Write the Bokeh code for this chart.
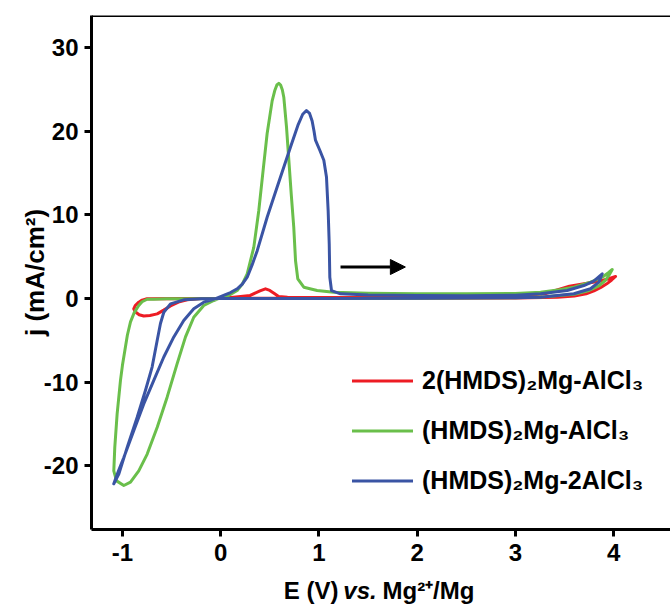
from bokeh.plotting import figure
from bokeh.layouts import column
from bokeh.models import (Range1d, FixedTicker, Span, Arrow, NormalHead,
                          Legend, LegendItem)
from bokeh.core.properties import value
from bokeh.embed import file_html
from bokeh.resources import INLINE

# ---------------- data ----------------
x_ticks = [-1, 0, 1, 2, 3, 4]
y_ticks = [-20, -10, 0, 10, 20, 30]

series_names = ["2(HMDS)\u2082Mg-AlCl\u2083",
                "(HMDS)\u2082Mg-AlCl\u2083",
                "(HMDS)\u2082Mg-2AlCl\u2083"]

x_title_parts = ["E (V)", "vs.", "Mg\u00b2\u207a/Mg"]
y_title = "j (mA/cm\u00b2)"

# 2(HMDS)2Mg-AlCl3
red_E = [-0.20, 0.00, 0.13, 0.30, 0.40, 0.456, 0.50, 0.55, 0.59, 0.68, 1.0, 1.5, 2.0, 2.5,
         3.0, 3.3, 3.45, 3.55, 3.70, 3.85, 3.95, 4.02,
         3.98, 3.93, 3.87, 3.80, 3.72, 3.60, 3.43, 3.0, 2.0, 1.0, 0.0, -0.40, -0.70,
         -0.75, -0.80, -0.834, -0.87, -0.885, -0.87, -0.83, -0.783, -0.72, -0.646,
         -0.58, -0.511, -0.43, -0.341, -0.20]
red_j = [-0.02, 0.02, 0.15, 0.35, 0.90, 1.15, 0.95, 0.55, 0.23, 0.15, 0.12, 0.10, 0.10, 0.12,
         0.25, 0.55, 1.10, 1.45, 1.75, 2.05, 2.35, 2.62,
         2.20, 1.74, 1.30, 0.90, 0.55, 0.28, 0.15, 0.06, 0.03, 0.02, 0.0, -0.02, -0.03,
         -0.05, -0.20, -0.45, -0.85, -1.24, -1.60, -1.95, -2.10, -2.05, -1.85,
         -1.40, -0.90, -0.45, -0.17, -0.02]

# (HMDS)2Mg-AlCl3
green_E = [-1.088, -1.06, -0.986, -0.918, -0.834, -0.748, -0.646, -0.545, -0.443, -0.358,
           -0.274, -0.172, -0.07, 0.0, 0.09, 0.168, 0.22, 0.27, 0.337, 0.388, 0.432, 0.473,
           0.524, 0.55, 0.572, 0.592, 0.610, 0.628, 0.643, 0.670, 0.694, 0.718, 0.744, 0.762,
           0.785, 0.846, 0.982, 1.151, 1.5, 2.0, 2.5, 3.0, 3.256, 3.45, 3.595, 3.765, 3.884,
           3.95, 3.986,
           3.96, 3.92, 3.85, 3.75, 3.6, 3.3, 3.0, 2.0, 1.0, 0.0, -0.3, -0.55, -0.68, -0.748,
           -0.80, -0.834, -0.88, -0.918, -0.950, -0.975, -1.0, -1.02, -1.054, -1.078, -1.088]
green_j = [-20.6, -21.8, -22.35, -21.96, -20.6, -18.6, -15.4, -11.8, -7.8, -4.6,
           -2.25, -0.85, -0.25, 0.07, 0.4, 0.94, 1.7, 2.94, 6.1, 10.5, 15.3, 19.7,
           23.6, 24.8, 25.5, 25.7, 25.5, 24.9, 24.0, 20.5, 16.5, 12.5, 8.5, 4.5,
           2.34, 1.34, 0.94, 0.74, 0.62, 0.55, 0.55, 0.60, 0.74, 1.05, 1.34, 1.94, 2.53,
           3.10, 3.45,
           2.90, 2.20, 1.50, 0.95, 0.50, 0.20, 0.08, 0.03, 0.0, -0.02, -0.03, -0.05, -0.10, -0.10,
           -0.40, -0.85, -1.7, -2.8, -4.4, -6.2, -8.0, -9.8, -13.8, -17.8, -20.6]

# (HMDS)2Mg-2AlCl3
blue_E = [-1.088, -1.04, -0.986, -0.885, -0.783, -0.681, -0.579, -0.477, -0.376, -0.274,
          -0.172, -0.07, 0.03, 0.10, 0.168, 0.22, 0.27, 0.32, 0.372, 0.473, 0.575, 0.711,
          0.790, 0.835, 0.873, 0.905, 0.931, 0.950, 0.965, 1.009, 1.05, 1.077, 1.094, 1.105,
          1.111, 1.128, 1.22,
          1.5, 2.0, 2.5, 3.0, 3.256, 3.527, 3.697, 3.798, 3.884,
          3.85, 3.765, 3.595, 3.256, 3.0, 2.0, 1.0, 0.0, -0.2, -0.376, -0.511, -0.579,
          -0.613, -0.646, -0.698, -0.766, -0.850, -0.952, -1.037, -1.088]
blue_j = [-22.15, -20.6, -19.0, -15.8, -12.6, -9.8, -7.0, -4.6, -2.64, -1.24,
          -0.45, -0.12, 0.35, 0.70, 1.15, 1.70, 2.53, 4.0, 5.7, 9.7, 13.3, 18.1,
          20.8, 22.0, 22.45, 22.1, 21.2, 20.0, 18.9, 17.7, 16.5, 14.5, 10.5, 6.5,
          2.53, 0.94, 0.55,
          0.42, 0.35, 0.33, 0.38, 0.55, 0.94, 1.54, 2.06, 2.94,
          1.94, 1.15, 0.55, 0.15, 0.08, 0.03, 0.0, -0.02, -0.03, -0.17, -0.65, -1.65,
          -3.0, -5.0, -8.2, -11.0, -14.2, -17.8, -21.0, -22.15]

colors = ["#ed1c24", "#6abf4b", "#3a54a4"]

# ---------------- figure ----------------
FONT = "Liberation Sans"
X0, X1 = -1.315, 4.579
Y0, Y1 = -27.61, 33.80

p = figure(width=670, height=575, output_backend="svg", toolbar_location=None,
           x_range=Range1d(X0, X1), y_range=Range1d(Y0, Y1),
           min_border_left=91, min_border_right=0, min_border_top=15,
           min_border_bottom=46)
p.outline_line_color = None
p.grid.visible = False
p.background_fill_color = "white"
p.border_fill_color = "white"

for ax in (p.xaxis[0], p.yaxis[0]):
    ax.axis_line_width = 3
    ax.axis_line_color = "black"
    ax.major_tick_line_width = 3
    ax.major_tick_line_color = "black"
    ax.major_tick_out = 7
    ax.major_tick_in = 0
    ax.minor_tick_line_color = None
    ax.major_label_text_font = FONT
    ax.major_label_text_font_style = "bold"
    ax.major_label_text_font_size = "24px"
    ax.major_label_text_color = "black"
p.xaxis.ticker = FixedTicker(ticks=x_ticks)
p.yaxis.ticker = FixedTicker(ticks=y_ticks)
p.xaxis.major_label_overrides = {t: str(t) for t in x_ticks}
p.yaxis.major_label_overrides = {t: str(t) for t in y_ticks}
p.xaxis.major_label_standoff = 7
p.yaxis.major_label_standoff = 6

p.yaxis.axis_label = y_title
p.yaxis.axis_label_text_font = FONT
p.yaxis.axis_label_text_font_style = "bold"
p.yaxis.axis_label_text_font_size = "26px"
p.yaxis.axis_label_text_color = "black"
p.yaxis.axis_label_standoff = -9

renderers = []
for E, j, c in zip([red_E, green_E, blue_E], [red_j, green_j, blue_j], colors):
    r = p.line(E, j, line_color=c, line_width=3, line_join="round", line_cap="round")
    renderers.append(r)

# top frame line
p.add_layout(Span(location=Y1, dimension="width", line_color="black", line_width=3))

# scan direction arrow
p.add_layout(Arrow(end=NormalHead(size=15, fill_color="black", line_color="black"),
                   x_start=1.22, y_start=3.75, x_end=1.88, y_end=3.75,
                   line_color="black", line_width=3))

legend = Legend(items=[LegendItem(label=n, renderers=[r]) for n, r in zip(series_names, renderers)],
                location=(261, 34), glyph_width=61, glyph_height=29, label_height=29,
                label_standoff=9, spacing=21, padding=0, margin=0,
                border_line_color=None, background_fill_alpha=0,
                label_text_font=FONT, label_text_font_style="bold",
                label_text_font_size="25px", label_text_color="black")
p.add_layout(legend)

# x-axis title strip (mixed bold / bold-italic text); its frame aligns with the plot frame
t = figure(width=670, height=30, output_backend="svg", toolbar_location=None,
           x_range=Range1d(X0, X1), y_range=Range1d(0, 30),
           x_axis_type=None, y_axis_type=None,
           min_border_left=0, min_border_right=0, min_border_top=0, min_border_bottom=0)
t.outline_line_color = None
t.grid.visible = False
t.background_fill_color = "white"
t.border_fill_color = "white"
TB = 15
t.text(x=[1.199], y=[TB], text=[x_title_parts[0]], text_align="right", text_baseline="alphabetic",
       text_font=value(FONT), text_font_style="bold", text_font_size="24px", text_color="black")
t.text(x=[1.418], y=[TB], text=[x_title_parts[1]], text_align="center", text_baseline="alphabetic",
       text_font=value(FONT), text_font_style="bold italic", text_font_size="24px", text_color="black")
t.text(x=[1.647], y=[TB], text=[x_title_parts[2]], text_align="left", text_baseline="alphabetic",
       text_font=value(FONT), text_font_style="bold", text_font_size="24px", text_color="black")

layout = column(p, t, spacing=0)
open("out.html", "w").write(file_html(layout, INLINE))
